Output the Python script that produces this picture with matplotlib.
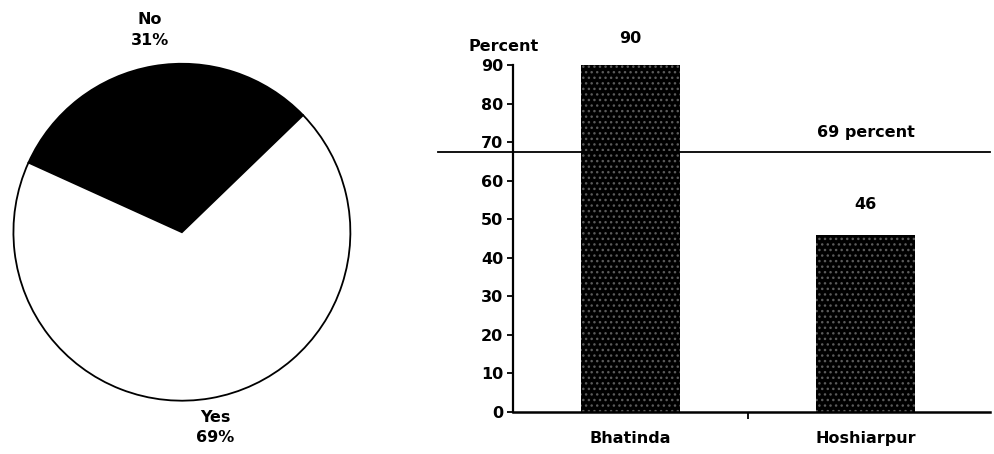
import matplotlib.pyplot as plt

plt.rcParams['font.family'] = ['DejaVu Sans']
plt.rcParams['font.weight'] = 'bold'

# pie data
pie_labels = ['No', 'Yes']
pie_values = [31, 69]

# bar data
districts = ['Bhatinda', 'Hoshiarpur']
percents = [90, 46]
overall_label = '69 percent'
overall_level = 67.5  # where the reference line sits in the picture

fig = plt.figure(figsize=(9.94, 4.54), dpi=100)

# %% Pie
ax1 = fig.add_axes([0.010, 0.110, 0.346, 0.757])
ax1.pie(pie_values, colors=['black', 'white'], startangle=44,
        wedgeprops=dict(edgecolor='black', linewidth=1.3))
ax1.set_xlim(-1.02, 1.02)
ax1.set_ylim(-1.02, 1.02)
ax1.text(-0.19, 1.2, f"{pie_labels[0]}\n{pie_values[0]}%", ha='center', va='center',
         fontsize=11.5, fontweight='bold', linespacing=1.45, clip_on=False)
ax1.text(0.2, -1.16, f"{pie_labels[1]}\n{pie_values[1]}%", ha='center', va='center',
         fontsize=11.5, fontweight='bold', linespacing=1.45, clip_on=False)

# %% Bars
ax2 = fig.add_axes([0.516, 0.0925, 0.48, 0.764])
x = list(range(len(districts)))
ax2.bar(x, percents, width=0.42, color='black', edgecolor='#5a5a5a',
        hatch='...', linewidth=0, clip_on=False)
ax2.set_xlim(-0.5, 1.53)
ax2.set_ylim(0, 90)
ax2.set_yticks(range(0, 91, 10))
ax2.tick_params(axis='y', direction='out', length=4, width=1.3, labelsize=11.5, pad=3)
ax2.set_xticks(x)
ax2.set_xticklabels(districts, fontsize=11.5, fontweight='bold')
ax2.tick_params(axis='x', length=0, pad=14)
ax2.set_xticks([0.5], minor=True)
ax2.tick_params(axis='x', which='minor', direction='out', length=5, width=1.3)
for lab in ax2.get_yticklabels():
    lab.set_fontweight('bold')
for s in ['top', 'right']:
    ax2.spines[s].set_visible(False)
ax2.spines['left'].set_linewidth(1.6)
ax2.spines['bottom'].set_linewidth(1.8)

for xi, v in zip(x, percents):
    ax2.text(xi, v + 5 if v > 80 else v + 6, str(v), ha='center', va='bottom',
             fontsize=11.5, clip_on=False)

ax2.plot([-0.82, 1.53], [overall_level, overall_level], color='black', lw=1.3,
         clip_on=False, zorder=3)
ax2.text(1.0, overall_level + 3, overall_label, ha='center', va='bottom', fontsize=11.5)
ax2.text(-0.54, 93, 'Percent', ha='center', va='bottom', fontsize=11.5, clip_on=False)

fig.savefig('out.png', dpi=100)
